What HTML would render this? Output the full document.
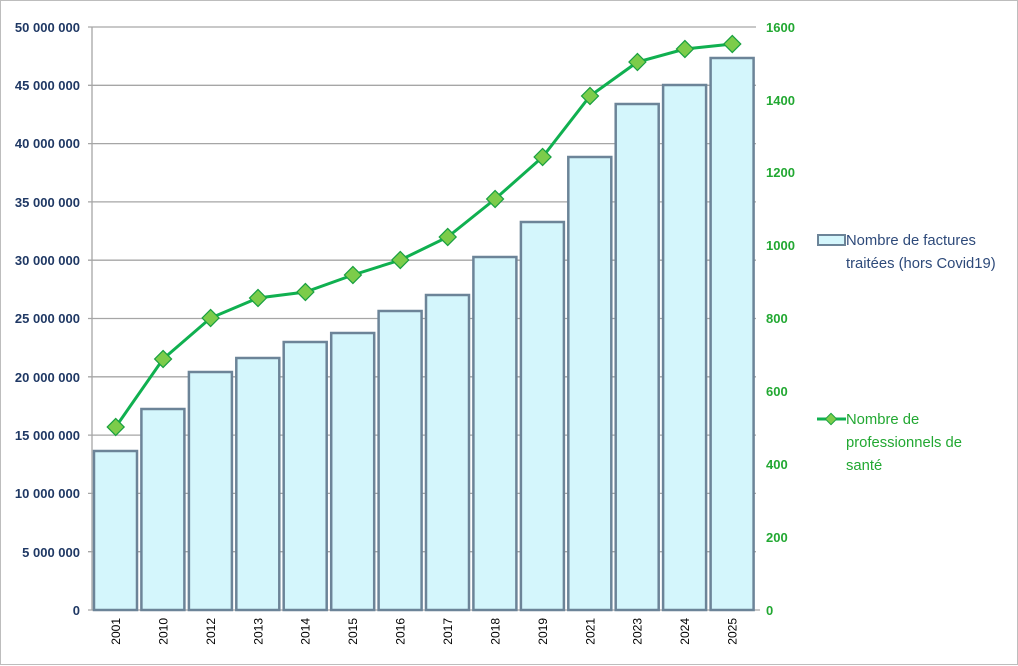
<!DOCTYPE html>
<html><head><style>body{margin:0;background:#fff}svg{display:block;font-family:"Liberation Sans",Arial,sans-serif}</style></head><body>
<svg width="1018" height="666" viewBox="0 0 1018 666">
<rect x="0.5" y="0.5" width="1017" height="664" fill="#fff" stroke="#bdbdbd"/>
<g stroke="#a6a6a6" stroke-width="1.3">
<line x1="88" y1="27" x2="756" y2="27"/><line x1="88" y1="85.3" x2="756" y2="85.3"/><line x1="88" y1="143.6" x2="756" y2="143.6"/><line x1="88" y1="201.9" x2="756" y2="201.9"/><line x1="88" y1="260.2" x2="756" y2="260.2"/><line x1="88" y1="318.5" x2="756" y2="318.5"/><line x1="88" y1="376.8" x2="756" y2="376.8"/><line x1="88" y1="435.1" x2="756" y2="435.1"/><line x1="88" y1="493.4" x2="756" y2="493.4"/><line x1="88" y1="551.7" x2="756" y2="551.7"/><line x1="88" y1="610" x2="760" y2="610"/>
<line x1="92" y1="27" x2="92" y2="610"/>
</g>
<g fill="#d4f6fc" stroke="#6c8498" stroke-width="2.5">
<rect x="94" y="451" width="43" height="159"/>
<rect x="141.4" y="409" width="43" height="201"/>
<rect x="188.9" y="372" width="43" height="238"/>
<rect x="236.3" y="358" width="43" height="252"/>
<rect x="283.7" y="342" width="43" height="268"/>
<rect x="331.2" y="333" width="43" height="277"/>
<rect x="378.6" y="311" width="43" height="299"/>
<rect x="426" y="295" width="43" height="315"/>
<rect x="473.4" y="257" width="43" height="353"/>
<rect x="520.9" y="222" width="43" height="388"/>
<rect x="568.3" y="157" width="43" height="453"/>
<rect x="615.7" y="104" width="43" height="506"/>
<rect x="663.1" y="85" width="43" height="525"/>
<rect x="710.6" y="58" width="43" height="552"/>
</g>
<polyline fill="none" stroke="#10b050" stroke-width="3" points="115.7,427 163.1,359 210.6,318 258,298 305.4,292 352.9,275 400.3,260 447.7,237 495.1,199 542.6,157 590,96 637.4,62 684.9,49 732.3,44"/>
<g fill="#7ccc4a" stroke="#18a040" stroke-width="1.2">
<rect x="-6" y="-6" width="12" height="12" transform="translate(115.7,427) rotate(45)"/>
<rect x="-6" y="-6" width="12" height="12" transform="translate(163.1,359) rotate(45)"/>
<rect x="-6" y="-6" width="12" height="12" transform="translate(210.6,318) rotate(45)"/>
<rect x="-6" y="-6" width="12" height="12" transform="translate(258,298) rotate(45)"/>
<rect x="-6" y="-6" width="12" height="12" transform="translate(305.4,292) rotate(45)"/>
<rect x="-6" y="-6" width="12" height="12" transform="translate(352.9,275) rotate(45)"/>
<rect x="-6" y="-6" width="12" height="12" transform="translate(400.3,260) rotate(45)"/>
<rect x="-6" y="-6" width="12" height="12" transform="translate(447.7,237) rotate(45)"/>
<rect x="-6" y="-6" width="12" height="12" transform="translate(495.1,199) rotate(45)"/>
<rect x="-6" y="-6" width="12" height="12" transform="translate(542.6,157) rotate(45)"/>
<rect x="-6" y="-6" width="12" height="12" transform="translate(590,96) rotate(45)"/>
<rect x="-6" y="-6" width="12" height="12" transform="translate(637.4,62) rotate(45)"/>
<rect x="-6" y="-6" width="12" height="12" transform="translate(684.9,49) rotate(45)"/>
<rect x="-6" y="-6" width="12" height="12" transform="translate(732.3,44) rotate(45)"/>
</g>
<g font-size="13" font-weight="bold" fill="#1f3864" text-anchor="end">
<text x="80" y="32">50 000 000</text><text x="80" y="90">45 000 000</text><text x="80" y="148">40 000 000</text><text x="80" y="207">35 000 000</text><text x="80" y="265">30 000 000</text><text x="80" y="323">25 000 000</text><text x="80" y="382">20 000 000</text><text x="80" y="440">15 000 000</text><text x="80" y="498">10 000 000</text><text x="80" y="557">5 000 000</text><text x="80" y="615">0</text>
</g>
<g font-size="13" font-weight="bold" fill="#22a832">
<text x="766" y="32">1600</text><text x="766" y="105">1400</text><text x="766" y="177">1200</text><text x="766" y="250">1000</text><text x="766" y="323">800</text><text x="766" y="396">600</text><text x="766" y="469">400</text><text x="766" y="542">200</text><text x="766" y="615">0</text>
</g>
<g font-size="12" fill="#000" text-anchor="end">
<text transform="translate(120,618) rotate(-90)">2001</text>
<text transform="translate(167.4,618) rotate(-90)">2010</text>
<text transform="translate(214.9,618) rotate(-90)">2012</text>
<text transform="translate(262.3,618) rotate(-90)">2013</text>
<text transform="translate(309.7,618) rotate(-90)">2014</text>
<text transform="translate(357.2,618) rotate(-90)">2015</text>
<text transform="translate(404.6,618) rotate(-90)">2016</text>
<text transform="translate(452,618) rotate(-90)">2017</text>
<text transform="translate(499.4,618) rotate(-90)">2018</text>
<text transform="translate(546.9,618) rotate(-90)">2019</text>
<text transform="translate(594.3,618) rotate(-90)">2021</text>
<text transform="translate(641.7,618) rotate(-90)">2023</text>
<text transform="translate(689.2,618) rotate(-90)">2024</text>
<text transform="translate(736.6,618) rotate(-90)">2025</text>
</g>
<rect x="818" y="235" width="27" height="10" fill="#d4f6fc" stroke="#6c8498" stroke-width="2"/>
<text x="846" y="245" font-size="14.8" fill="#2e4a7a">Nombre de factures</text>
<text x="846" y="268" font-size="14.8" fill="#2e4a7a">traitées (hors Covid19)</text>
<line x1="817" y1="419" x2="846" y2="419" stroke="#10b050" stroke-width="3"/>
<rect x="-4" y="-4" width="8" height="8" transform="translate(831,419) rotate(45)" fill="#7ccc4a" stroke="#18a040"/>
<text x="846" y="424" font-size="14.8" fill="#22a832">Nombre de</text>
<text x="846" y="447" font-size="14.8" fill="#22a832">professionnels de</text>
<text x="846" y="470" font-size="14.8" fill="#22a832">santé</text>
</svg>
</body></html>
